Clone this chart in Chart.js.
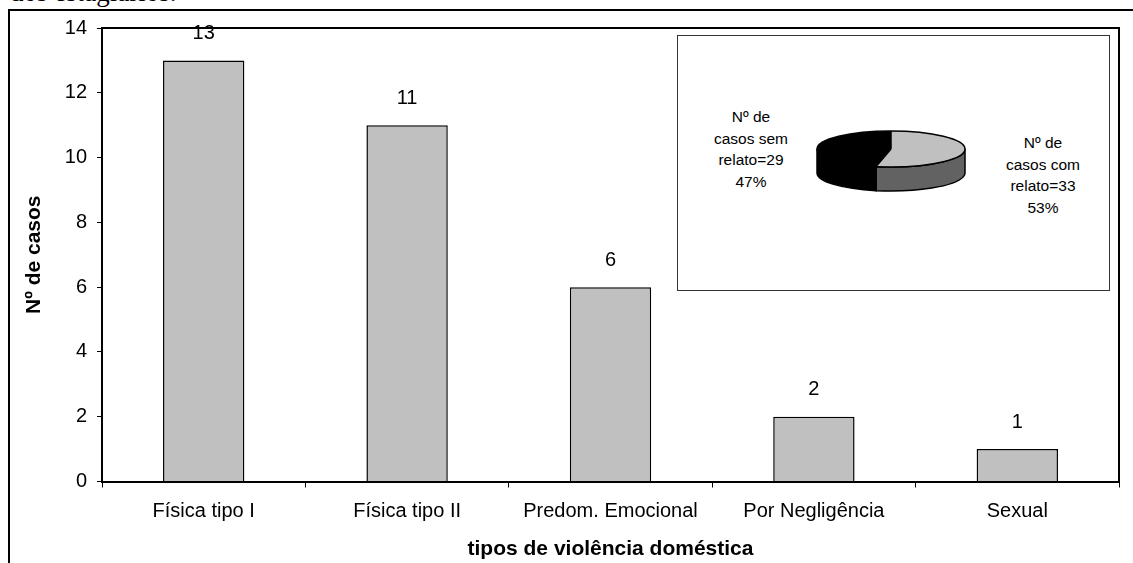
<!DOCTYPE html>
<html>
<head>
<meta charset="utf-8">
<script src="https://cdn.jsdelivr.net/npm/chart.js@4"></script>
<style>
  html, body { margin: 0; padding: 0; background: #fff; overflow: hidden; }
  body { width: 1133px; height: 563px; position: relative; font-family: "Liberation Sans", Arial, sans-serif; }
  #main { position: absolute; left: 0; top: 0; }
  #pie { position: absolute; left: 813px; top: 71px; }
  .doc { position: absolute; left: 10px; top: -21px; font: 27px/27px "Liberation Serif", "Times New Roman", serif; color: #000; white-space: nowrap; }
  .frame { position: absolute; left: 8px; top: 9px; width: 1200px; height: 600px; border-top: 2px solid #000; border-left: 2px solid #000; }
  .inset { position: absolute; left: 677px; top: 35px; width: 431px; height: 254px; border: 1px solid #333; background: #fff; }
  .plab { position: absolute; width: 130px; text-align: center; font-size: 15.5px; line-height: 21.7px; color: #000; }
</style>
</head>
<body>
<div class="doc">dos estagiários.</div>
<div class="frame"></div>
<canvas id="main" width="1133" height="563"></canvas>
<div class="inset"></div>
<div class="plab" id="labSem" style="left:686px; top:106px;"></div>
<div class="plab" id="labCom" style="left:978px; top:132px;"></div>
<canvas id="pie" width="156" height="156"></canvas>
<script>
// ---- data ----
const categories = ["Física tipo I", "Física tipo II", "Predom. Emocional", "Por Negligência", "Sexual"];
const casos = [13, 11, 6, 2, 1];
const yTickValues = [0, 2, 4, 6, 8, 10, 12, 14];
const yAxisTitle = "Nº de casos";
const xAxisTitle = "tipos de violência doméstica";

const pieCategories = ["com relato", "sem relato"];
const pieValues = [33, 29];
const pieLabelLines = [
  ["Nº de", "casos com", "relato=33", "53%"],
  ["Nº de", "casos sem", "relato=29", "47%"]
];

// ---- styles ----
Chart.defaults.font.family = '"Liberation Sans", Arial, sans-serif';
Chart.defaults.color = '#000';

const frameLines = {
  id: 'frameLines',
  afterDraw(chart) {
    const {ctx, chartArea: a} = chart;
    ctx.save();
    ctx.strokeStyle = '#000';
    ctx.lineWidth = 2;
    ctx.beginPath();
    ctx.moveTo(a.left, a.top);
    ctx.lineTo(a.right, a.top);
    ctx.lineTo(a.right, a.bottom);
    ctx.stroke();
    ctx.restore();
  }
};

const barValueLabels = {
  id: 'barValueLabels',
  afterDatasetsDraw(chart) {
    const {ctx} = chart;
    const meta = chart.getDatasetMeta(0);
    ctx.save();
    ctx.font = '20px "Liberation Sans", Arial, sans-serif';
    ctx.fillStyle = '#000';
    ctx.textAlign = 'center';
    ctx.textBaseline = 'middle';
    meta.data.forEach((bar, i) => {
      ctx.fillText(String(chart.data.datasets[0].data[i]), bar.x, bar.y - 27);
    });
    ctx.restore();
  }
};

new Chart(document.getElementById('main'), {
  type: 'bar',
  data: {
    labels: categories,
    datasets: [{
      data: casos,
      backgroundColor: '#C0C0C0',
      borderColor: '#000',
      borderWidth: 1.5,
      categoryPercentage: 1.0,
      barPercentage: 0.4
    }]
  },
  options: {
    responsive: false,
    animation: false,
    events: [],
    layout: { padding: { top: 28, right: 14, left: 0, bottom: 0 } },
    plugins: { legend: { display: false }, tooltip: { enabled: false } },
    scales: {
      x: {
        grid: { offset: true, drawOnChartArea: false, drawTicks: true, tickLength: 6, color: '#000', tickWidth: 1 },
        border: { display: true, color: '#000', width: 2 },
        ticks: { font: { size: 20 }, color: '#000', padding: 12, maxRotation: 0, autoSkip: false },
        title: { display: true, text: xAxisTitle, font: { size: 21, weight: 'bold' }, color: '#000', padding: { top: 0, bottom: 1 } },
        afterFit(scale) { scale.height = 81.5; }
      },
      y: {
        min: 0, max: 14,
        afterBuildTicks(scale) { scale.ticks = yTickValues.map(v => ({ value: v })); },
        grid: { drawOnChartArea: false, drawTicks: true, tickLength: 5, color: '#000', tickWidth: 1 },
        border: { display: true, color: '#000', width: 2 },
        ticks: { font: { size: 20 }, color: '#000', padding: 10 },
        title: { display: true, text: yAxisTitle, font: { size: 21, weight: 'bold' }, color: '#000', padding: { top: 22, bottom: 0 } },
        afterFit(scale) { scale.width = 102; }
      }
    }
  },
  plugins: [frameLines, barValueLabels]
});

// ---- 3D-looking pie ----
const TILT = 18 / 74;
const DEPTH = 24;
const sideColors = ['#626262', '#000000'];

const pie3d = {
  id: 'pie3d',
  beforeDatasetsDraw(chart) {
    const ctx = chart.ctx;
    const arcs = chart.getDatasetMeta(0).data;
    const {x, y, outerRadius: r} = arcs[0];
    const ry = r * TILT;
    ctx.save();
    ctx.lineWidth = 1.5;
    ctx.strokeStyle = '#000';
    arcs.forEach((arc, i) => {
      const ranges = [[0, Math.PI], [2 * Math.PI, 3 * Math.PI]];
      ranges.forEach(([lo, hi]) => {
        const a1 = Math.max(arc.startAngle, lo);
        const a2 = Math.min(arc.endAngle, hi);
        if (a2 <= a1) return;
        ctx.beginPath();
        ctx.ellipse(x, y, r, ry, 0, a1, a2);
        ctx.lineTo(x + r * Math.cos(a2), y + ry * Math.sin(a2) + DEPTH);
        ctx.ellipse(x, y + DEPTH, r, ry, 0, a2, a1, true);
        ctx.closePath();
        ctx.fillStyle = sideColors[i];
        ctx.fill();
        ctx.stroke();
      });
    });
    ctx.restore();
    // squash the library-drawn top face into an ellipse
    ctx.save();
    ctx.translate(x, y);
    ctx.scale(1, TILT);
    ctx.translate(-x, -y);
  },
  afterDatasetsDraw(chart) {
    const ctx = chart.ctx;
    ctx.restore();
    const arcs = chart.getDatasetMeta(0).data;
    const {x, y, outerRadius: r} = arcs[0];
    const ry = r * TILT;
    ctx.save();
    ctx.lineWidth = 1.5;
    ctx.strokeStyle = '#000';
    ctx.beginPath();
    ctx.ellipse(x, y, r, ry, 0, 0, 2 * Math.PI);
    ctx.stroke();
    arcs.forEach(arc => {
      const a = arc.startAngle;
      ctx.beginPath();
      ctx.moveTo(x, y);
      ctx.lineTo(x + r * Math.cos(a), y + ry * Math.sin(a));
      ctx.stroke();
    });
    ctx.restore();
  }
};

new Chart(document.getElementById('pie'), {
  type: 'pie',
  data: {
    labels: pieCategories,
    datasets: [{
      data: pieValues,
      backgroundColor: ['#C0C0C0', '#000000'],
      borderWidth: 0,
      hoverOffset: 0
    }]
  },
  options: {
    responsive: false,
    animation: false,
    events: [],
    layout: { padding: 4 },
    plugins: { legend: { display: false }, tooltip: { enabled: false } }
  },
  plugins: [pie3d]
});

document.getElementById('labCom').innerHTML = pieLabelLines[0].join('<br>');
document.getElementById('labSem').innerHTML = pieLabelLines[1].join('<br>');
</script>
</body>
</html>
